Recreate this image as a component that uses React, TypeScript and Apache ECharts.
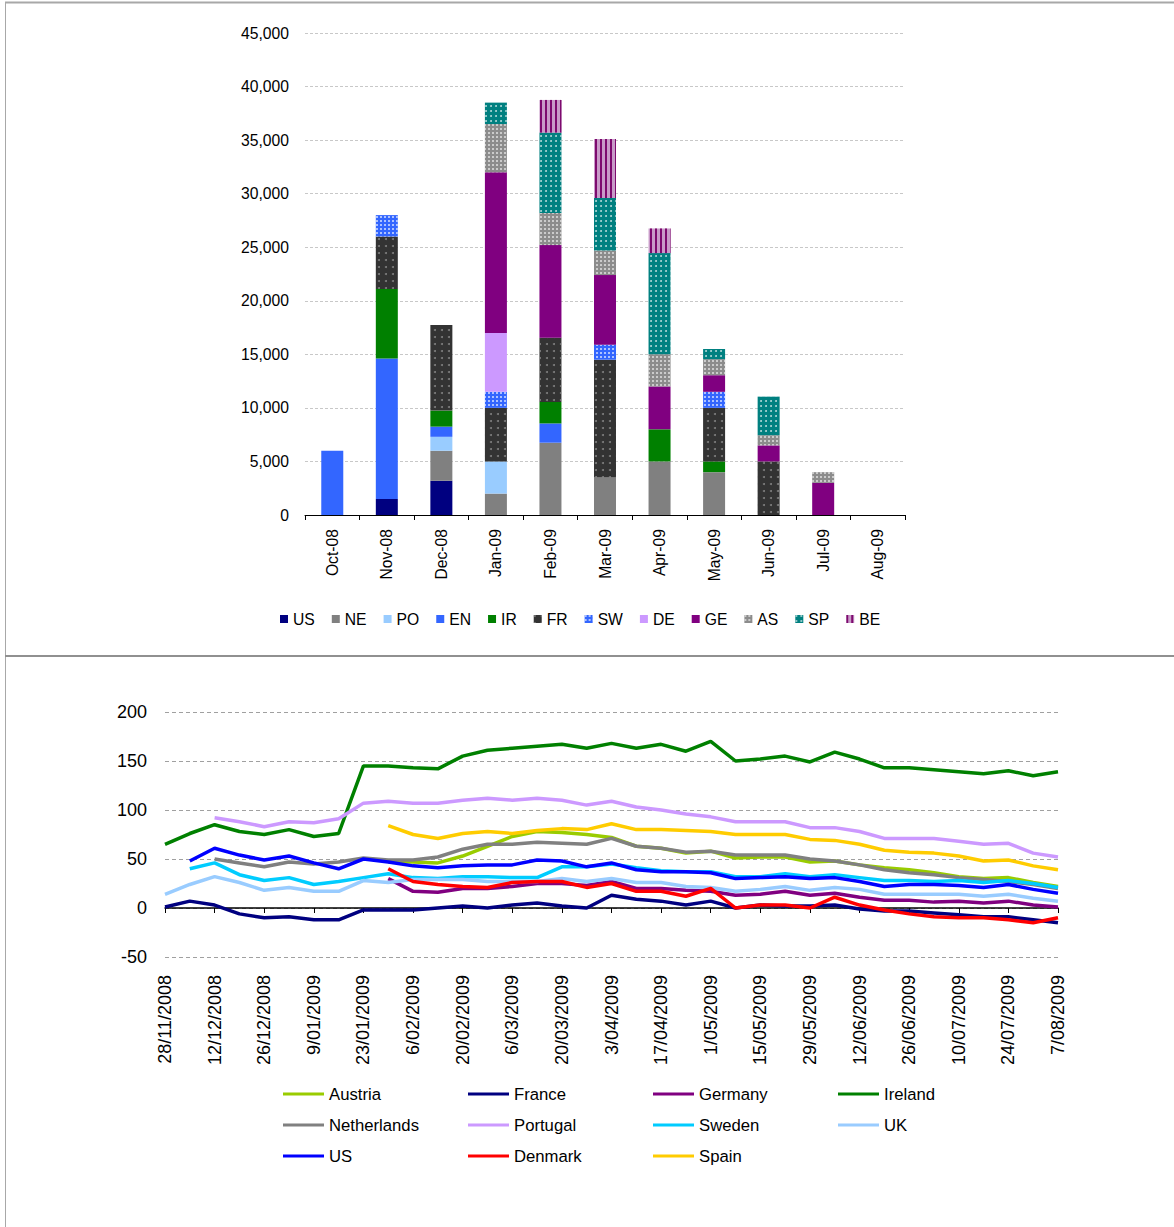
import React, { useEffect, useRef } from "react";
import * as echarts from "echarts";

// ---------- Top chart data (stacked bars) ----------
const months = ["Oct-08", "Nov-08", "Dec-08", "Jan-09", "Feb-09", "Mar-09", "Apr-09", "May-09", "Jun-09", "Jul-09", "Aug-09"];
const barUS = [null, 1500, 3200, null, null, null, null, null, null, null, null];
const barNE = [null, null, 2800, 2000, 6750, 3500, 5000, 4000, null, null, null];
const barPO = [null, null, 1300, 3000, null, null, null, null, null, null, null];
const barEN = [6000, 13100, 950, null, 1800, null, null, null, null, null, null];
const barIR = [null, 6500, 1500, null, 2000, null, 3000, 1000, null, null, null];
const barFR = [null, 4900, 8000, 5000, 6000, 11000, null, 5000, 5000, null, null];
const barSW = [null, 2000, null, 1500, null, 1400, null, 1500, null, null, null];
const barDE = [null, null, null, 5500, null, null, null, null, null, null, null];
const barGE = [null, null, null, 15000, 8650, 6500, 4000, 1550, 1500, 3000, null];
const barAS = [null, null, null, 4500, 3000, 2300, 3000, 1500, 950, 1000, null];
const barSP = [null, null, null, 2000, 7500, 4900, 9450, 950, 3600, null, null];
const barBE = [null, null, null, null, 3050, 5500, 2300, null, null, null, null];
const yTicksTop = [0, 45000, 5000];

// ---------- Bottom chart data (weekly readings) ----------
const dates = [
  "28/11/2008", "5/12/2008", "12/12/2008", "19/12/2008", "26/12/2008", "2/01/2009", "9/01/2009",
  "16/01/2009", "23/01/2009", "30/01/2009", "6/02/2009", "13/02/2009", "20/02/2009", "27/02/2009",
  "6/03/2009", "13/03/2009", "20/03/2009", "27/03/2009", "3/04/2009", "10/04/2009", "17/04/2009",
  "24/04/2009", "1/05/2009", "8/05/2009", "15/05/2009", "22/05/2009", "29/05/2009", "5/06/2009",
  "12/06/2009", "19/06/2009", "26/06/2009", "3/07/2009", "10/07/2009", "17/07/2009", "24/07/2009",
  "31/07/2009", "7/08/2009",
];
const _ = null;
const austria = [_, _, _, _, _, _, _, _, _, 47, 47, 46, 53, 63, 73, 78, 77, 75, 72, 63, 61, 56, 58, 51, 52, 52, 47, 48, 44, 41, 39, 36, 32, 30, 31, 26, 22];
const france = [1, 7, 3, -6, -10, -9, -12, -12, -2, -2, -2, 0, 2, 0, 3, 5, 2, 0, 13, 9, 7, 3, 7, 0, 3, 2, 2, 3, -1, -3, -3, -5, -7, -9, -9, -12, -15];
const germany = [_, _, _, _, _, _, _, _, _, 30, 17, 16, 20, 20, 22, 25, 25, 23, 27, 20, 20, 18, 17, 13, 14, 17, 13, 15, 11, 8, 8, 6, 7, 5, 7, 3, 1];
const ireland = [65, 76, 85, 78, 75, 80, 73, 76, 145, 145, 143, 142, 155, 161, 163, 165, 167, 163, 168, 163, 167, 160, 170, 150, 152, 155, 149, 159, 152, 143, 143, 141, 139, 137, 140, 135, 139];
const netherlands = [_, _, 50, 46, 42, 47, 45, 47, 51, 49, 49, 52, 60, 65, 65, 67, 66, 65, 71, 63, 61, 57, 58, 54, 54, 54, 50, 48, 44, 39, 36, 34, 31, 29, 27, 24, 20];
const portugal = [_, _, 92, 88, 83, 88, 87, 91, 107, 109, 107, 107, 110, 112, 110, 112, 110, 105, 109, 103, 100, 96, 93, 88, 88, 88, 82, 82, 78, 71, 71, 71, 68, 65, 66, 56, 52];
const sweden = [_, 40, 46, 34, 28, 31, 24, 27, 31, 35, 31, 30, 32, 32, 31, 31, 42, 42, 45, 41, 38, 37, 37, 32, 32, 35, 32, 34, 31, 28, 28, 27, 28, 26, 28, 25, 21];
const uk = [14, 24, 32, 26, 18, 21, 17, 17, 28, 26, 29, 29, 29, 27, 27, 27, 30, 27, 30, 26, 26, 22, 21, 17, 19, 22, 18, 21, 19, 14, 14, 14, 14, 12, 14, 10, 7];
const us = [_, 48, 61, 54, 49, 53, 46, 40, 50, 47, 43, 41, 43, 44, 44, 49, 48, 42, 46, 39, 37, 37, 36, 30, 31, 32, 30, 31, 27, 22, 24, 24, 23, 21, 24, 19, 15];
const denmark = [_, _, _, _, _, _, _, _, _, 40, 27, 24, 22, 21, 26, 27, 27, 21, 25, 17, 17, 12, 20, 0, 3, 3, 0, 11, 3, -2, -6, -9, -10, -10, -12, -15, -10];
const spain = [_, _, _, _, _, _, _, _, _, 84, 75, 71, 76, 78, 76, 79, 81, 80, 86, 80, 80, 79, 78, 75, 75, 75, 70, 69, 65, 59, 57, 56, 53, 48, 49, 43, 39];
const yTicksBottom = [-50, 200, 50];

const FONT = "'Liberation Sans', Arial, sans-serif";

export default function App() {
  const ref = useRef<HTMLDivElement>(null);
  useEffect(() => {
    document.body.style.margin = "0";
    document.body.style.overflow = "hidden";
    const chart = echarts.init(ref.current!, null, { renderer: "svg" });

    const barDefs: any[] = [
      { name: "US", data: barUS, color: "#000080" },
      { name: "NE", data: barNE, color: "#808080" },
      { name: "PO", data: barPO, color: "#99ccff" },
      { name: "EN", data: barEN, color: "#3366ff" },
      { name: "IR", data: barIR, color: "#008000" },
      { name: "FR", data: barFR, color: "#333333", decal: { symbol: "circle", symbolSize: 1, color: "rgba(150,150,150,0.75)", dashArrayX: [2, 5], dashArrayY: [2, 5] } },
      { name: "SW", data: barSW, color: "#3366ff", decal: { symbol: "rect", symbolSize: 1, color: "rgba(255,255,255,0.6)", dashArrayX: [2, 2], dashArrayY: [2, 2] } },
      { name: "DE", data: barDE, color: "#cc99ff" },
      { name: "GE", data: barGE, color: "#800080" },
      { name: "AS", data: barAS, color: "#8c8c8c", decal: { symbol: "rect", symbolSize: 1, color: "rgba(255,255,255,0.55)", dashArrayX: [2, 2], dashArrayY: [2, 2] } },
      { name: "SP", data: barSP, color: "#008080", decal: { symbol: "circle", symbolSize: 0.9, color: "rgba(255,255,255,0.75)", dashArrayX: [2, 3], dashArrayY: [2, 3] } },
      { name: "BE", data: barBE, color: "#c89ac8", decal: { symbol: "rect", symbolSize: 1, color: "#7d0a6e", dashArrayX: [1.5, 2.5], dashArrayY: [4, 0] } },
    ];

    const lineDefs: any[] = [
      { name: "Austria", data: austria, color: "#99cc00" },
      { name: "France", data: france, color: "#000080" },
      { name: "Germany", data: germany, color: "#800080" },
      { name: "Ireland", data: ireland, color: "#008000" },
      { name: "Netherlands", data: netherlands, color: "#808080" },
      { name: "Portugal", data: portugal, color: "#cc99ff" },
      { name: "Sweden", data: sweden, color: "#00ccff" },
      { name: "UK", data: uk, color: "#99ccff" },
      { name: "US", data: us, color: "#0000ff" },
      { name: "Denmark", data: denmark, color: "#ff0000" },
      { name: "Spain", data: spain, color: "#ffcc00" },
    ];

    const legendCols = [
      ["Austria", "Netherlands", "US"],
      ["France", "Portugal", "Denmark"],
      ["Germany", "Sweden", "Spain"],
      ["Ireland", "UK"],
    ];
    const colLeft = [283, 468, 653, 838];

    const option: any = {
      animation: false,
      backgroundColor: "#ffffff",
      textStyle: { fontFamily: FONT, color: "#000" },
      grid: [
        { left: 305, top: 33, width: 600, height: 482 },
        { left: 165, top: 712, width: 893, height: 245 },
      ],
      legend: [
        {
          data: barDefs.map((b) => b.name),
          left: 280,
          top: 611,
          padding: 0,
          icon: "rect",
          itemWidth: 8,
          itemHeight: 8,
          itemGap: 17,
          textStyle: { fontFamily: FONT, fontSize: 15.7, color: "#000" },
        },
        ...legendCols.map((col, i) => ({
          data: col.map((n) => {
            const l = lineDefs.find((d) => d.name === n);
            return { name: n, itemStyle: { color: l.color } };
          }),
          orient: "vertical",
          left: colLeft[i],
          top: 1084,
          padding: 0,
          icon: "rect",
          itemWidth: 41,
          itemHeight: 3,
          itemGap: 11,
          textStyle: { fontFamily: FONT, fontSize: 16.7, color: "#000", lineHeight: 20 },
        })),
      ],
      xAxis: [
        {
          type: "category",
          gridIndex: 0,
          data: months,
          axisLine: { lineStyle: { color: "#000", width: 1 } },
          axisTick: { show: true, length: 5, lineStyle: { color: "#000" } },
          axisLabel: { rotate: 90, interval: 0, margin: 14, fontSize: 15.7, color: "#000", fontFamily: FONT },
        },
        {
          type: "category",
          gridIndex: 1,
          data: dates,
          boundaryGap: false,
          position: "bottom",
          axisLine: { show: false, onZero: false },
          axisTick: { show: false },
          axisLabel: { rotate: 90, interval: 1, margin: 18, fontSize: 18, color: "#000", fontFamily: FONT },
        },
        {
          type: "category",
          gridIndex: 1,
          data: dates,
          boundaryGap: false,
          position: "bottom",
          axisLine: { show: true, onZero: true, lineStyle: { color: "#000", width: 1.5 } },
          axisTick: { show: true, interval: 1, length: 5, lineStyle: { color: "#000" } },
          axisLabel: { show: false },
        },
      ],
      yAxis: [
        {
          type: "value",
          gridIndex: 0,
          min: yTicksTop[0],
          max: yTicksTop[1],
          interval: yTicksTop[2],
          axisLine: { show: false },
          axisTick: { show: false },
          axisLabel: {
            margin: 16,
            fontSize: 15.7,
            color: "#000",
            fontFamily: FONT,
            formatter: (v: number) => v.toLocaleString("en-US"),
          },
          splitLine: { lineStyle: { color: "#c8c8c8", type: [3, 2], width: 1 } },
        },
        {
          type: "value",
          gridIndex: 1,
          min: yTicksBottom[0],
          max: yTicksBottom[1],
          interval: yTicksBottom[2],
          axisLine: { show: false },
          axisTick: { show: false },
          axisLabel: { margin: 18, fontSize: 18, color: "#000", fontFamily: FONT },
          splitLine: { lineStyle: { color: "#a0a0a0", type: [4, 3], width: 1 } },
        },
      ],
      series: [
        ...barDefs.map((b) => ({
          type: "bar",
          name: b.name,
          stack: "total",
          xAxisIndex: 0,
          yAxisIndex: 0,
          barWidth: 22,
          data: b.data,
          itemStyle: { color: b.color, decal: b.decal || "none" },
        })),
        ...lineDefs.map((l) => ({
          type: "line",
          name: l.name,
          xAxisIndex: 1,
          yAxisIndex: 1,
          data: l.data,
          showSymbol: false,
          symbol: "none",
          connectNulls: false,
          lineStyle: { color: l.color, width: 3.5 },
          itemStyle: { color: l.color },
        })),
      ],
      graphic: [
        { type: "line", shape: { x1: 5, y1: 2.5, x2: 1174, y2: 2.5 }, style: { stroke: "#a8a8a8", lineWidth: 2 } },
        { type: "line", shape: { x1: 5.5, y1: 2, x2: 5.5, y2: 1227 }, style: { stroke: "#a8a8a8", lineWidth: 1 } },
        { type: "line", shape: { x1: 5, y1: 656, x2: 1174, y2: 656 }, style: { stroke: "#909090", lineWidth: 2 } },
      ],
    };
    chart.setOption(option);
    return () => chart.dispose();
  }, []);
  return <div ref={ref} style={{ width: 1174, height: 1227 }} />;
}
